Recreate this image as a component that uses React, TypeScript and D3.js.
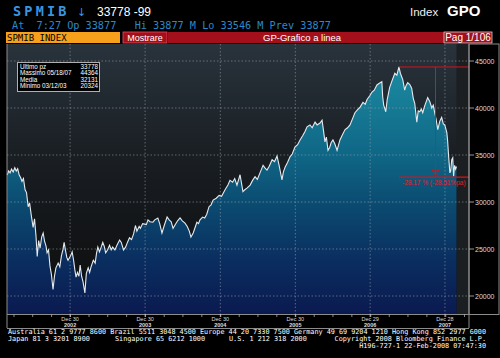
import React from 'react';
import * as d3 from 'd3';

// closing levels, roughly every 1-2 weeks
const dates = [
  '2002-02-27', '2002-03-06', '2002-03-13', '2002-03-20', '2002-03-28', '2002-04-05', '2002-04-12', '2002-04-19', '2002-04-26',
  '2002-05-03', '2002-05-10', '2002-05-17', '2002-05-25', '2002-06-01', '2002-06-09', '2002-06-16', '2002-06-24', '2002-07-03',
  '2002-07-10', '2002-07-17', '2002-07-23', '2002-07-30', '2002-08-06', '2002-08-14', '2002-08-21', '2002-08-28', '2002-09-04',
  '2002-09-09', '2002-09-16', '2002-09-23', '2002-09-30', '2002-10-08', '2002-10-15', '2002-10-22', '2002-11-02', '2002-11-10',
  '2002-11-18', '2002-11-25', '2002-12-01', '2002-12-08', '2002-12-14', '2002-12-20',
  '2003-01-02', '2003-01-09', '2003-01-16', '2003-01-22', '2003-01-28', '2003-02-04', '2003-02-11', '2003-02-17', '2003-02-24',
  '2003-03-03', '2003-03-12', '2003-03-19', '2003-03-28', '2003-04-04', '2003-04-11', '2003-04-22', '2003-05-01', '2003-05-08',
  '2003-05-14', '2003-05-22', '2003-06-01', '2003-06-07', '2003-06-14', '2003-06-21', '2003-06-30', '2003-07-10', '2003-07-18',
  '2003-07-25', '2003-08-05', '2003-08-15', '2003-08-28', '2003-09-05', '2003-09-16', '2003-09-26', '2003-10-05', '2003-10-15',
  '2003-10-25', '2003-11-04', '2003-11-13', '2003-11-20', '2003-12-01', '2003-12-07', '2003-12-18',
  '2004-01-05', '2004-01-13', '2004-01-23', '2004-02-06', '2004-02-15', '2004-03-01', '2004-03-10', '2004-03-21', '2004-04-01',
  '2004-04-15', '2004-04-25', '2004-05-05', '2004-05-14', '2004-05-25', '2004-06-05', '2004-06-17', '2004-06-28', '2004-07-11',
  '2004-07-22', '2004-08-01', '2004-08-09', '2004-08-20', '2004-09-07', '2004-09-15', '2004-09-22', '2004-10-05', '2004-10-15',
  '2004-10-25', '2004-11-05', '2004-11-15', '2004-11-25', '2004-12-10', '2004-12-24',
  '2005-01-05', '2005-01-22', '2005-02-05', '2005-02-15', '2005-02-28', '2005-03-10', '2005-03-21', '2005-04-05', '2005-04-19',
  '2005-04-28', '2005-05-10', '2005-05-24', '2005-06-05', '2005-06-17', '2005-06-28', '2005-07-11', '2005-07-26', '2005-08-05',
  '2005-08-14', '2005-08-25', '2005-09-08', '2005-09-20', '2005-10-02', '2005-10-12', '2005-10-26', '2005-11-02', '2005-11-10',
  '2005-11-22', '2005-12-04', '2005-12-15', '2005-12-28',
  '2006-01-10', '2006-01-22', '2006-02-05', '2006-02-15', '2006-02-25', '2006-03-11', '2006-03-22', '2006-04-05', '2006-04-15',
  '2006-04-29', '2006-05-09', '2006-05-16', '2006-05-23', '2006-05-30', '2006-06-07', '2006-06-15', '2006-06-22', '2006-07-01',
  '2006-07-10', '2006-07-21', '2006-08-04', '2006-08-15', '2006-08-29', '2006-09-10', '2006-09-22', '2006-10-05', '2006-10-16',
  '2006-10-28', '2006-11-10', '2006-11-24', '2006-12-05', '2006-12-14', '2006-12-27',
  '2007-01-07', '2007-01-18', '2007-01-31', '2007-02-10', '2007-02-24', '2007-02-28', '2007-03-05', '2007-03-15', '2007-03-22',
  '2007-04-03', '2007-04-13', '2007-04-28', '2007-05-08', '2007-05-18', '2007-05-25', '2007-06-06', '2007-06-15', '2007-06-22',
  '2007-06-30', '2007-07-10', '2007-07-19', '2007-07-27', '2007-08-03', '2007-08-13', '2007-08-20', '2007-08-27', '2007-09-04',
  '2007-09-11', '2007-09-20', '2007-10-05', '2007-10-15', '2007-10-25', '2007-11-01', '2007-11-08', '2007-11-15', '2007-11-23',
  '2007-12-03', '2007-12-12', '2007-12-20', '2007-12-27',
  '2008-01-06', '2008-01-10', '2008-01-15', '2008-01-21', '2008-01-25', '2008-01-30', '2008-02-04', '2008-02-08', '2008-02-13',
  '2008-02-18', '2008-02-22',
];

const closes = [
  32870, 33300, 33100, 33500, 33200, 33650, 33300, 33550, 32900,
  32600, 32200, 32500, 31300, 31000, 29500, 29900, 28600, 27300,
  28200, 26400, 24200, 25900, 25100, 26300, 26700, 25800, 25300,
  24600, 24900, 23200, 22300, 20700, 22100, 23000, 23500, 23100,
  24300, 24900, 25700, 24800, 24100, 23800,
  24300, 24700, 23800, 22800, 22000, 22500, 22100, 23300, 22100,
  21500, 20324, 22400, 23000, 22500, 23100, 23800, 23500, 24600,
  25200, 24700, 25300, 25700, 25300, 24600, 24900, 25400, 24900,
  25200, 24900, 25400, 25950, 25700, 24900, 25200, 25700, 26200,
  26000, 26600, 27500, 26900, 27400, 27200, 27700,
  27600, 28100, 27900, 27850, 28100, 28300, 27700, 26700, 27500,
  28400, 28100, 27900, 27200, 27600, 28000, 28300, 28000, 27750,
  27400, 26900, 26270, 26700, 27850, 27700, 28100, 28400, 28300,
  28700, 29500, 29700, 30200, 30400, 30700,
  30600, 31300, 31800, 32300, 32100, 32500, 31800, 32900, 31100,
  31300, 31500, 31800, 32300, 32700, 32400, 33100, 33900, 33600,
  33400, 33800, 34500, 34300, 34900, 33900, 32350, 33200, 33700,
  34200, 34800, 35100, 35850,
  36100, 36600, 37100, 37500, 38000, 38200, 37900, 38500, 38200,
  38400, 38700, 37600, 36400, 36900, 35500, 35800, 36300, 36600,
  36200, 35500, 36600, 37100, 37700, 37900, 38200, 38900, 39500,
  39800, 40100, 40600, 40400, 40900, 41300,
  41700, 41900, 42450, 42600, 42800, 41200, 40300, 39600, 40900,
  42200, 42800, 43700, 43500, 44364, 43700, 43000, 41900, 42400,
  42700, 42500, 42100, 41000, 40500, 38500, 39700, 39600, 39900,
  39500, 40200, 41100, 40700, 40000, 40300, 39500, 38800, 37700,
  38600, 39000, 38300, 38200,
  37400, 36500, 34800, 33100, 33300, 34500, 34700, 32750, 33900,
  33500, 33778,
];

const yTicks = [45000, 40000, 35000, 30000, 25000, 20000];
const yearTickDates = ['2002-12-30', '2003-12-30', '2004-12-30', '2005-12-30', '2006-12-29', '2007-12-28'];
const yearTickDays = ['Dec 30', 'Dec 30', 'Dec 30', 'Dec 30', 'Dec 29', 'Dec 28'];
const yearTickYears = ['2002', '2003', '2004', '2005', '2006', '2007'];

const statLabels = ['Ultimo pz', 'Massimo 05/18/07', 'Media', 'Minimo 03/12/03'];
const statValues = ['33778', '44364', '32131', '20324'];

const changeLabel = '-28.17 % (-28.51%pa)';

const mono = '"DejaVu Sans Mono", monospace';
const sans = '"Liberation Sans", Arial, sans-serif';
const pre = { whiteSpace: 'pre' as const };

export default function App() {
  const parse = d3.timeParse('%Y-%m-%d');
  const data = dates.map((d, i) => ({ date: parse(d) as Date, v: closes[i] }));

  const left = 7, right = 469, top = 44, bottom = 314;
  const x = d3.scaleTime()
    .domain([parse('2002-02-26') as Date, parse('2008-04-23') as Date])
    .range([left, right]);
  const y = d3.scaleLinear().domain([20000, 45000]).range([296, 61]);

  const area = d3.area<any>().x(d => x(d.date)).y0(bottom).y1(d => y(d.v));
  const line = d3.line<any>().x(d => x(d.date)).y(d => y(d.v));

  const last = data[data.length - 1];
  const peak = data.reduce((a, b) => (b.v > a.v ? b : a));
  const peakIdx = data.indexOf(peak);
  const lowAfter = d3.min(data.slice(peakIdx), d => d.v) as number;
  const arrowX = x(parse('2007-11-12') as Date);

  const quarterTicks = x.ticks(d3.timeMonth.every(3) as any);

  return (
    <svg width={500} height={358} style={{ position: 'absolute', left: 0, top: 0, background: '#000' }}>
      <defs>
        <linearGradient id="bg" gradientUnits="userSpaceOnUse" x1="0" y1={top} x2="0" y2={bottom}>
          <stop offset="0" stopColor="#29333c" />
          <stop offset="0.4" stopColor="#1a1f24" />
          <stop offset="0.75" stopColor="#111315" />
          <stop offset="1" stopColor="#0d0e10" />
        </linearGradient>
        <linearGradient id="fill" gradientUnits="userSpaceOnUse" x1="0" y1={top} x2="0" y2={bottom}>
          <stop offset="0" stopColor="#1b92a8" />
          <stop offset="0.15" stopColor="#19849c" />
          <stop offset="0.42" stopColor="#0f6585" />
          <stop offset="0.6" stopColor="#0b4a70" />
          <stop offset="0.8" stopColor="#0a2e60" />
          <stop offset="1" stopColor="#0a1a50" />
        </linearGradient>
      </defs>

      {/* header */}
      <text x={13} y={16} fontFamily={mono} fontWeight="bold" fontSize={13.5} letterSpacing={3.2} fill="#3a95e0">SPMIB</text>
      <text x={77} y={16} fontFamily="DejaVu Sans" fontSize={11} fill="#3a95e0">↓</text>
      <text x={97} y={16} fontFamily={sans} fontSize={12} fill="#fff">33778 -99</text>
      <text x={12} y={28.5} fontFamily={mono} fontSize={10.2} fill="#2a88cc" style={pre}>At  7:27 Op 33877   Hi 33877 M Lo 33546 M Prev 33877</text>
      <text x={410} y={16} fontFamily={sans} fontSize={11.5} fill="#eee">Index</text>
      <text x={447} y={16} fontFamily={sans} fontWeight="bold" fontSize={15} fill="#fff">GPO</text>

      {/* menu bar */}
      <rect x={168} y={32} width={276} height={11} fill="#a3101c" />
      <rect x={6} y={32} width={114} height={11} fill="#f7a01c" />
      <text x={7} y={41} fontFamily={mono} fontSize={9} fill="#000">SPMIB INDEX</text>
      <rect x={123} y={32} width={44} height={11} fill="#a3101c" stroke="#e05060" strokeWidth={0.8} />
      <text x={145} y={41} textAnchor="middle" fontFamily={sans} fontSize={9} fill="#fff">Mostrare</text>
      <text x={263} y={41} fontFamily={sans} fontSize={9.5} fill="#fff">GP-Grafico a linea</text>
      <rect x={444} y={32} width={48} height={11} fill="#a3101c" stroke="#d0d0d0" strokeWidth={0.8} />
      <text x={468} y={41} textAnchor="middle" fontFamily={sans} fontSize={10} fill="#fff">Pag 1/106</text>

      {/* plot */}
      <rect x={left} y={top} width={right - left} height={bottom - top} fill="url(#bg)" />
      <rect x={x(last.date)} y={top} width={right - x(last.date)} height={bottom - top} fill="#1c1f22" />
      <path d={area(data) as string} fill="url(#fill)" />

      {yTicks.map(t => (
        <line key={t} x1={left} x2={right} y1={y(t)} y2={y(t)} stroke="#9aa2aa" strokeWidth={0.7} strokeDasharray="1.5,2" opacity={0.8} />
      ))}
      {yearTickDates.map(d => (
        <line key={d} x1={x(parse(d) as Date)} x2={x(parse(d) as Date)} y1={top} y2={bottom} stroke="#9aa2aa" strokeWidth={0.7} strokeDasharray="1.5,2" opacity={0.8} />
      ))}

      <path d={line(data) as string} fill="none" stroke="#e4eaee" strokeWidth={1.1} />

      {/* drawdown annotation */}
      <g stroke="#d4141e" strokeWidth={1} fill="none">
        <line x1={x(peak.date)} x2={right} y1={y(peak.v)} y2={y(peak.v)} />
        <line x1={arrowX} x2={arrowX} y1={y(peak.v)} y2={y(lowAfter) - 1} />
        <path d={`M${arrowX - 3.5},${y(lowAfter) - 6}L${arrowX + 3.5},${y(lowAfter) - 6}L${arrowX},${y(lowAfter) - 1}Z`} />
        <line x1={x(peak.date)} x2={right} y1={y(lowAfter) + 1} y2={y(lowAfter) + 1} strokeWidth={1.2} />
      </g>
      <text x={402} y={y(lowAfter) + 9} fontFamily={sans} fontSize={6.5} fill="#e0202a">{changeLabel}</text>

      {/* stats box */}
      <rect x={17.5} y={62.5} width={82} height={29} fill="#000" stroke="#b0b0b0" strokeWidth={1} />
      {statLabels.map((s, i) => (
        <g key={s}>
          <text x={20} y={69 + i * 6.3} fontFamily={sans} fontSize={6.3} fill="#fff">{s}</text>
          <text x={98} y={69 + i * 6.3} textAnchor="end" fontFamily={sans} fontSize={6.3} fill="#fff">{statValues[i]}</text>
        </g>
      ))}

      {/* frame and axes */}
      <g stroke="#8c8c8c" strokeWidth={1} fill="none">
        <line x1={left} x2={left} y1={top} y2={328} />
        <line x1={left} x2={right} y1={328.5} y2={328.5} />
        <line x1={right} x2={right} y1={top} y2={328} />
        <line x1={left} x2={right} y1={bottom + 0.5} y2={bottom + 0.5} />
        <rect x={right} y={top} width={30} height={bottom - top + 0.5} />
      </g>
      {quarterTicks.map((t, i) => (
        <line key={i} x1={x(t)} x2={x(t)} y1={bottom} y2={bottom + 3} stroke="#aaa" strokeWidth={0.8} />
      ))}
      {yearTickDates.map((d, i) => (
        <g key={d}>
          <line x1={x(parse(d) as Date)} x2={x(parse(d) as Date)} y1={bottom} y2={bottom + 3} stroke="#ccc" strokeWidth={0.8} />
          <text x={x(parse(d) as Date)} y={321} textAnchor="middle" fontFamily={sans} fontSize={5.5} fill="#ddd">{yearTickDays[i]}</text>
          <text x={x(parse(d) as Date)} y={327} textAnchor="middle" fontFamily={sans} fontSize={5.5} fontWeight="bold" fill="#ddd">{yearTickYears[i]}</text>
        </g>
      ))}
      {yTicks.map(t => (
        <g key={t}>
          <line x1={right} x2={right + 5} y1={y(t)} y2={y(t)} stroke="#bbb" strokeWidth={0.8} />
          <text x={475} y={y(t) + 2.5} fontFamily={sans} fontSize={7} fill="#ddd">{t}</text>
        </g>
      ))}

      {/* footer */}
      <text x={8} y={334} fontFamily={mono} fontSize={6.8} fill="#fff" textLength={478} lengthAdjust="spacingAndGlyphs">Australia 61 2 9777 8600 Brazil 5511 3048 4500 Europe 44 20 7330 7500 Germany 49 69 9204 1210 Hong Kong 852 2977 6000</text>
      <text x={8} y={341} fontFamily={mono} fontSize={6.8} fill="#fff">Japan 81 3 3201 8900</text>
      <text x={115} y={341} fontFamily={mono} fontSize={6.8} fill="#fff">Singapore 65 6212 1000</text>
      <text x={229} y={341} fontFamily={mono} fontSize={6.8} fill="#fff">U.S. 1 212 318 2000</text>
      <text x={486} y={341} textAnchor="end" fontFamily={mono} fontSize={6.8} fill="#fff">Copyright 2008 Bloomberg Finance L.P.</text>
      <text x={486} y={348} textAnchor="end" fontFamily={mono} fontSize={6.8} fill="#fff">H196-727-1 22-Feb-2008 07:47:30</text>
    </svg>
  );
}
